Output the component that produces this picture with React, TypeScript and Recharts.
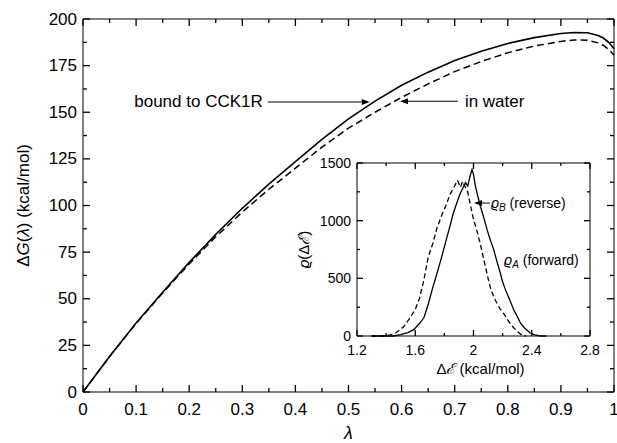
import { ComposedChart, Label, Line, ReferenceDot, ReferenceLine, Scatter, XAxis, YAxis } from "recharts";

// main panel: free energy along lambda
const lambda = [0, 0.05, 0.1, 0.15, 0.2, 0.25, 0.3, 0.35, 0.4, 0.45, 0.5, 0.55, 0.6, 0.65, 0.7, 0.75, 0.8, 0.85, 0.9, 0.925, 0.95, 0.97, 0.98, 0.99, 1.0];
const boundDG = [0, 19, 37, 53.5, 69.5, 84.5, 98.5, 111.5, 123.5, 135.5, 146.5, 156, 164.5, 171.5, 177.8, 182.7, 186.9, 190, 192.2, 192.8, 192.6, 191.2, 189.8, 187.5, 184];
const waterDG = [0, 19, 36.8, 53.1, 68.7, 83.2, 96.5, 108.7, 120, 131.3, 141.5, 150, 158, 165.2, 171.8, 177.2, 181.9, 185.5, 188, 188.8, 188.6, 187.2, 185.8, 183.7, 180.5];

const mainXTicks = [0, 0.05, 0.1, 0.15, 0.2, 0.25, 0.3, 0.35, 0.4, 0.45, 0.5, 0.55, 0.6, 0.65, 0.7, 0.75, 0.8, 0.85, 0.9, 0.95, 1];
const mainYTicks = [0, 12.5, 25, 37.5, 50, 62.5, 75, 87.5, 100, 112.5, 125, 137.5, 150, 162.5, 175, 187.5, 200];

// inset: energy distributions
const forwardE = [1.3, 1.45, 1.5, 1.55, 1.59, 1.63, 1.66, 1.69, 1.72, 1.75, 1.78, 1.81, 1.84, 1.86, 1.89, 1.91, 1.93, 1.945, 1.96, 1.975, 1.99, 2.0, 2.013, 2.03, 2.047, 2.07, 2.093, 2.116, 2.139, 2.16, 2.184, 2.2, 2.219, 2.25, 2.276, 2.3, 2.322, 2.35, 2.39, 2.42, 2.46, 2.5];
const forwardRho = [0, 0, 11, 30, 55, 110, 160, 280, 420, 546, 680, 820, 960, 1060, 1170, 1240, 1290, 1330, 1300, 1380, 1443, 1400, 1300, 1210, 1125, 1030, 922, 830, 749, 650, 546, 470, 402, 310, 228, 170, 113, 70, 26, 10, 0, 0];
const reverseE = [1.3, 1.38, 1.43, 1.47, 1.52, 1.56, 1.6, 1.63, 1.66, 1.69, 1.72, 1.75, 1.78, 1.81, 1.84, 1.87, 1.89, 1.91, 1.925, 1.94, 1.96, 1.98, 2.0, 2.02, 2.05, 2.08, 2.1, 2.12, 2.15, 2.18, 2.21, 2.24, 2.27, 2.3, 2.33, 2.36];
const reverseRho = [0, 0, 10, 30, 80, 150, 230, 330, 490, 690, 800, 940, 1040, 1130, 1230, 1300, 1350, 1290, 1340, 1300, 1250, 1130, 1010, 930, 780, 610, 500, 400, 310, 240, 190, 130, 80, 40, 10, 0];

const insetXTicks = [1.2, 1.4, 1.6, 1.8, 2.0, 2.2, 2.4, 2.6, 2.8];
const insetYTicks = [0, 250, 500, 750, 1000, 1250, 1500];

const mainData = lambda.map((x, i) => ({ x, bound: boundDG[i], water: waterDG[i] }));
const forwardData = forwardE.map((x, i) => ({ x, rho: forwardRho[i] }));
const reverseData = reverseE.map((x, i) => ({ x, rho: reverseRho[i] }));

const FONT = '"Liberation Sans", Arial, sans-serif';
const TICK_W = 1.3;
const onStep = (v: number, step: number) => Math.abs(v / step - Math.round(v / step)) < 1e-6;
const fmt = (v: number) => String(+v.toFixed(1));

// bottom / left: tick label plus inward tick mark at the axis
function xTick(step: number, big: number, small: number, fontSize: number, gap: number) {
  return (props: any) => {
    const { x, y, payload } = props;
    const major = onStep(payload.value, step);
    return (
      <g>
        <path d={`M${x},${y}L${x},${y - (major ? big : small)}`} stroke="#000" strokeWidth={TICK_W} fill="none" />
        {major && (
          <text x={x} y={y + gap} textAnchor="middle" dominantBaseline="central" fontSize={fontSize} fontFamily={FONT} fill="#000">
            {fmt(payload.value)}
          </text>
        )}
      </g>
    );
  };
}

function yTick(step: number, big: number, small: number, fontSize: number, gap: number) {
  return (props: any) => {
    const { x, y, payload } = props;
    const major = onStep(payload.value, step);
    return (
      <g>
        <path d={`M${x},${y}L${x + (major ? big : small)},${y}`} stroke="#000" strokeWidth={TICK_W} fill="none" />
        {major && (
          <text x={x - gap} y={y} textAnchor="end" dominantBaseline="central" fontSize={fontSize} fontFamily={FONT} fill="#000">
            {fmt(payload.value)}
          </text>
        )}
      </g>
    );
  };
}

// top / right: mirrored inward ticks placed as scatter marks on the frame
function frameMarks(xt: number[], yt: number[], xMax: number, yMax: number, xStep: number, yStep: number, big: number, small: number) {
  return [
    ...xt.map((v) => ({ x: v, y: yMax, dx: 0, dy: 1, len: onStep(v, xStep) ? big : small })),
    ...yt.map((v) => ({ x: xMax, y: v, dx: -1, dy: 0, len: onStep(v, yStep) ? big : small })),
  ];
}
const mainMarks = frameMarks(mainXTicks, mainYTicks, 1, 200, 0.1, 25, 7, 4);
const insetMarks = frameMarks(insetXTicks, insetYTicks, 2.8, 1500, 0.4, 500, 6, 3);

const FrameMark = (p: any) => {
  const { cx, cy, payload } = p;
  return <path d={`M${cx},${cy}L${cx + payload.dx * payload.len},${cy + payload.dy * payload.len}`} stroke="#000" strokeWidth={TICK_W} fill="none" />;
};

function arrowShape(content: React.ReactNode, fontSize: number, gap: number) {
  return (p: any) => {
    const { x1, y1, x2, y2 } = p;
    const dir = x2 > x1 ? 1 : -1;
    const head = 8;
    return (
      <g>
        <line x1={x1} y1={y1} x2={x2 - dir * head} y2={y2} stroke="#000" strokeWidth={1} />
        <polygon points={`${x2},${y2} ${x2 - dir * head},${y2 - 3} ${x2 - dir * head},${y2 + 3}`} fill="#000" />
        <text x={x1 - dir * gap} y={y1} textAnchor={dir > 0 ? "end" : "start"} dominantBaseline="central" fontSize={fontSize} fontFamily={FONT} fill="#000">
          {content}
        </text>
      </g>
    );
  };
}

const MainYLabel = (p: any) => {
  const vb = p.viewBox;
  const cx = vb.x + 23;
  const cy = vb.y + vb.height / 2;
  return (
    <text x={cx} y={cy} transform={`rotate(-90 ${cx} ${cy})`} textAnchor="middle" dominantBaseline="central" fontSize={17} fontFamily={FONT} fill="#000">
      Δ<tspan fontStyle="italic">G</tspan>(<tspan fontStyle="italic">λ</tspan>) (kcal/mol)
    </text>
  );
};

const MainXLabel = (p: any) => {
  const vb = p.viewBox;
  return (
    <text x={vb.x + vb.width / 2} y={vb.y + 47} textAnchor="middle" fontSize={18} fontStyle="italic" fontFamily={FONT} fill="#000">
      λ
    </text>
  );
};

const InsetXLabel = (p: any) => {
  const vb = p.viewBox;
  return (
    <text x={vb.x + vb.width / 2 + 7} y={vb.y + 32} textAnchor="middle" dominantBaseline="central" fontSize={15} fontFamily={FONT} fill="#000">
      Δ<tspan fontStyle="italic">ℰ</tspan> (kcal/mol)
    </text>
  );
};

const InsetYLabel = (p: any) => {
  const vb = p.viewBox;
  const cx = vb.x + 13;
  const cy = vb.y + vb.height / 2;
  return (
    <text x={cx} y={cy} transform={`rotate(-90 ${cx} ${cy})`} textAnchor="middle" dominantBaseline="central" fontSize={15} fontFamily={FONT} fill="#000">
      <tspan fontStyle="italic">ϱ</tspan>(Δ<tspan fontStyle="italic">ℰ</tspan>)
    </text>
  );
};

const forwardLabel = (p: any) => (
  <text x={p.cx} y={p.cy} dominantBaseline="central" fontSize={14} fontFamily={FONT} fill="#000">
    <tspan fontStyle="italic">ϱ</tspan>
    <tspan fontStyle="italic" fontSize={10} dy={4}>A</tspan>
    <tspan dy={-4}> (forward)</tspan>
  </text>
);

export default function App() {
  return (
    <div style={{ position: "absolute", left: 0, top: 0, width: 617, height: 443, background: "#fff", fontFamily: FONT }}>
      <ComposedChart width={617} height={443} data={mainData} margin={{ top: 19, right: 3, bottom: 0, left: 0 }}>
        <XAxis dataKey="x" type="number" domain={[0, 1]} ticks={mainXTicks} interval={0} height={51} tickSize={0} tickMargin={0}
          axisLine={{ stroke: "#000" }} tickLine={false} tick={xTick(0.1, 7, 4, 17, 17)}>
          <Label content={MainXLabel} />
        </XAxis>
        <YAxis type="number" domain={[0, 200]} ticks={mainYTicks} interval={0} width={83} tickSize={0} tickMargin={0}
          axisLine={{ stroke: "#000" }} tickLine={false} tick={yTick(25, 7, 4, 17, 6)}>
          <Label content={MainYLabel} />
        </YAxis>
        <ReferenceLine y={200} stroke="#000" />
        <ReferenceLine x={1} stroke="#000" />
        <Scatter data={mainMarks} dataKey="y" shape={FrameMark} isAnimationActive={false} />
        <Line dataKey="bound" stroke="#000" strokeWidth={1.6} dot={false} isAnimationActive={false} />
        <Line dataKey="water" stroke="#000" strokeWidth={1.5} strokeDasharray="7 4" dot={false} isAnimationActive={false} />
        <ReferenceLine segment={[{ x: 0.348, y: 155.5 }, { x: 0.54, y: 155.5 }]} shape={arrowShape("bound to CCK1R", 17, 5)} />
        <ReferenceLine segment={[{ x: 0.706, y: 155.9 }, { x: 0.597, y: 155.9 }]} shape={arrowShape("in water", 17, 7)} />
      </ComposedChart>

      <div style={{ position: "absolute", left: 290, top: 150 }}>
        <ComposedChart width={310} height={240} margin={{ top: 13, right: 10, bottom: 0, left: 0 }}>
          <XAxis dataKey="x" type="number" domain={[1.2, 2.8]} ticks={insetXTicks} interval={0} height={54} tickSize={0} tickMargin={0}
            axisLine={{ stroke: "#000" }} tickLine={false} tick={xTick(0.4, 6, 3, 14, 14)}>
            <Label content={InsetXLabel} />
          </XAxis>
          <YAxis type="number" domain={[0, 1500]} ticks={insetYTicks} interval={0} width={67} tickSize={0} tickMargin={0}
            axisLine={{ stroke: "#000" }} tickLine={false} tick={yTick(500, 6, 3, 14, 6)}>
            <Label content={InsetYLabel} />
          </YAxis>
          <ReferenceLine y={1500} stroke="#000" />
          <ReferenceLine x={2.8} stroke="#000" />
          <Scatter data={insetMarks} dataKey="y" shape={FrameMark} isAnimationActive={false} />
          <Line data={forwardData} dataKey="rho" stroke="#000" strokeWidth={1.3} dot={false} isAnimationActive={false} />
          <Line data={reverseData} dataKey="rho" stroke="#000" strokeWidth={1.3} strokeDasharray="5 3" dot={false} isAnimationActive={false} />
          <ReferenceLine segment={[{ x: 2.113, y: 1153 }, { x: 2.004, y: 1153 }]}
            shape={arrowShape(<><tspan fontStyle="italic">ϱ</tspan><tspan fontStyle="italic" fontSize={10} dy={4}>B</tspan><tspan dy={-4}> (reverse)</tspan></>, 14, 1)} />
          <ReferenceDot x={2.21} y={659} shape={forwardLabel} />
        </ComposedChart>
      </div>
    </div>
  );
}
